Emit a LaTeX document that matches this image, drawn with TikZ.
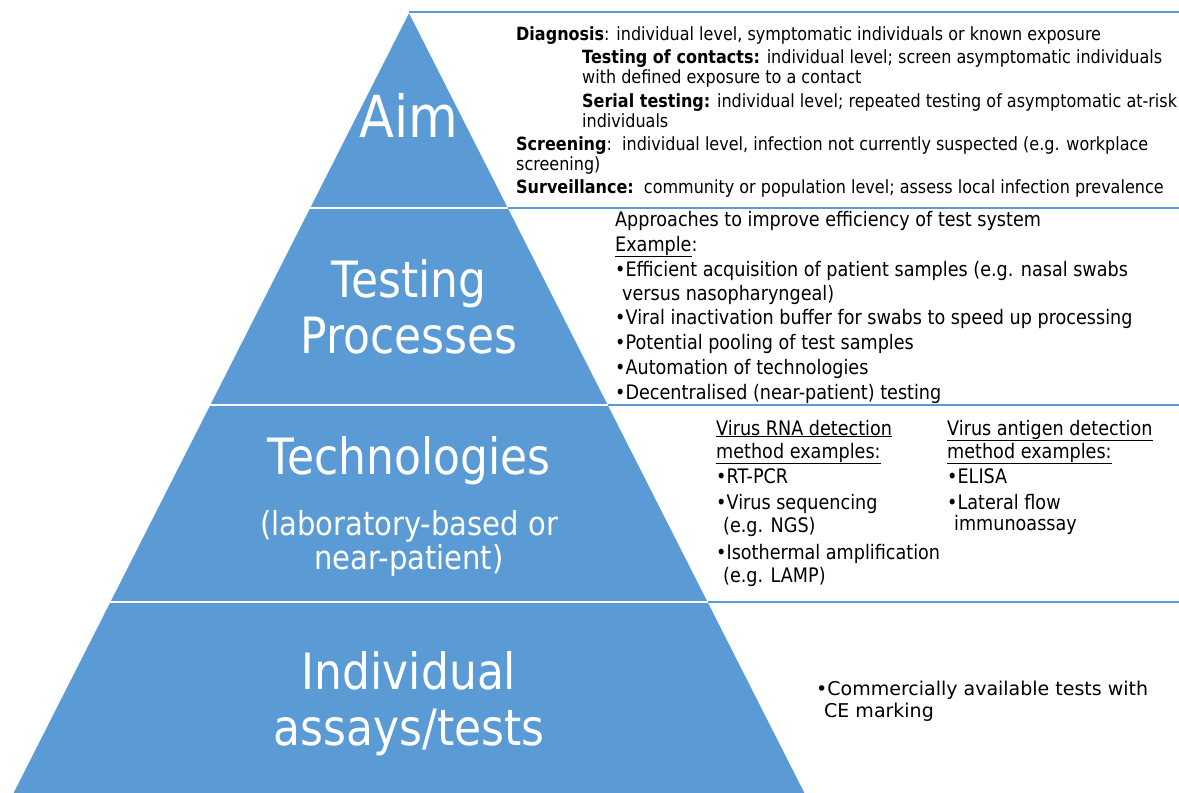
\documentclass[tikz,border=0pt]{standalone}
\usepackage{fontspec}
\setmainfont[FakeStretch=0.88]{DejaVu Sans}
\newfontfamily\plainfont{DejaVu Sans}
\usetikzlibrary{calc}

\definecolor{pyrblue}{HTML}{5B9BD5}

\tikzset{
  tierlabel/.style={text=white, font=\fontsize{50}{56}\selectfont, anchor=base, inner sep=0pt},
  sublabel/.style={text=white, font=\fontsize{33}{36}\selectfont, anchor=base, inner sep=0pt},
  aimtext/.style={font=\fontsize{18.2}{21}\selectfont, anchor=base west, inner sep=0pt},
  bodytext/.style={font=\fontsize{20}{24}\selectfont, anchor=base west, inner sep=0pt},
  asstext/.style={font=\plainfont\fontsize{19}{24}\selectfont, anchor=base west, inner sep=0pt},
  sepline/.style={pyrblue, line width=1.6pt},
  tiergap/.style={white, line width=2.5pt}
}

\begin{document}
\begin{tikzpicture}[x=1pt,y=-1pt]
\useasboundingbox (0,0) rectangle (1179,793);
\def \Apex {409}
\def \Top {12}

%la pyramide
\coordinate (T) at (\Apex,\Top);
\coordinate (BL) at (13,793);
\coordinate (BR) at (805,793);
\coordinate (E) at (1179,0);

\fill[pyrblue] (T) -- (BL) -- (BR) -- cycle;
\draw[white, line width=0.8pt] (BL) -- (T) -- (BR);
\draw[sepline] (T) -- (T -| E);% top rule

\foreach \t/\n in {0.251/1, 0.503/2, 0.7554/3} {
  \coordinate (L\n) at ($(T)!\t!(BL)$);
  \coordinate (R\n) at ($(T)!\t!(BR)$);
  \draw[tiergap] (L\n) -- (R\n);
  \draw[sepline] (R\n) -- (R\n -| E);
}

%les niveaux
\node[tierlabel, font=\fontsize{58}{60}\selectfont] (aim) at (\Apex,137) {Aim};
\node[tierlabel] (testing) at (\Apex,297) {Testing};
\node[tierlabel] (processes) at (\Apex,353) {Processes};
\node[tierlabel] (techno) at (\Apex,474) {Technologies};
\node[sublabel] (labbased) at (\Apex,535) {(laboratory-based or};
\node[sublabel] (nearpat) at (\Apex,569) {near-patient)};
\node[tierlabel] (indiv) at (\Apex,689) {Individual};
\node[tierlabel] (assays) at (\Apex,745) {assays/tests};

%Aim
\node[aimtext] (diag) at (516,40) {\textbf{Diagnosis}: individual level, symptomatic individuals or known exposure};
\node[aimtext] (contacts) at (582,63) {\textbf{Testing of contacts:} individual level; screen asymptomatic individuals};
\node[aimtext] (contacts2) at (582,83) {with defined exposure to a contact};
\node[aimtext] (serial) at (582,107) {\textbf{Serial testing:} individual level; repeated testing of asymptomatic at-risk};
\node[aimtext] (serial2) at (582,127) {individuals};
\node[aimtext] (screen) at (516,150) {\textbf{Screening}:\ \ individual level, infection not currently suspected (e.g. workplace};
\node[aimtext] (screen2) at (516,170) {screening)};
\node[aimtext] (surv) at (516,193) {\textbf{Surveillance:}\ \ community or population level; assess local infection prevalence};

%Testing processes
\node[bodytext] (appr) at (615,226) {Approaches to improve efficiency of test system};
\node[bodytext] (example) at (615,251) {\underline{Example}:};
\node[bodytext] (acq) at (615,276) {•Efficient acquisition of patient samples (e.g. nasal swabs};
\node[bodytext] (acq2) at (622,300) {versus nasopharyngeal)};
\node[bodytext] (buffer) at (615,324) {•Viral inactivation buffer for swabs to speed up processing};
\node[bodytext] (pool) at (615,349) {•Potential pooling of test samples};
\node[bodytext] (auto) at (615,374) {•Automation of technologies};
\node[bodytext] (decent) at (615,399) {•Decentralised (near-patient) testing};

%Technologies
\node[bodytext] (rna) at (716,435) {\underline{Virus RNA detection}};
\node[bodytext] (rna2) at (716,458) {\underline{method examples:}};
\node[bodytext] (rtpcr) at (716,483) {•RT-PCR};
\node[bodytext] (seq) at (716,509) {•Virus sequencing};
\node[bodytext] (seq2) at (723,532) {(e.g. NGS)};
\node[bodytext] (iso) at (716,559) {•Isothermal amplification};
\node[bodytext] (iso2) at (723,582) {(e.g. LAMP)};

\node[bodytext] (antigen) at (947,435) {\underline{Virus antigen detection}};
\node[bodytext] (antigen2) at (947,458) {\underline{method examples:}};
\node[bodytext] (elisa) at (947,483) {•ELISA};
\node[bodytext] (lateral) at (947,509) {•Lateral flow};
\node[bodytext] (lateral2) at (954,530) {immunoassay};

%Individual assays
\node[asstext] (ce) at (816,695) {•Commercially available tests with};
\node[asstext] (ce2) at (824,717) {CE marking};

\end{tikzpicture}
\end{document}
